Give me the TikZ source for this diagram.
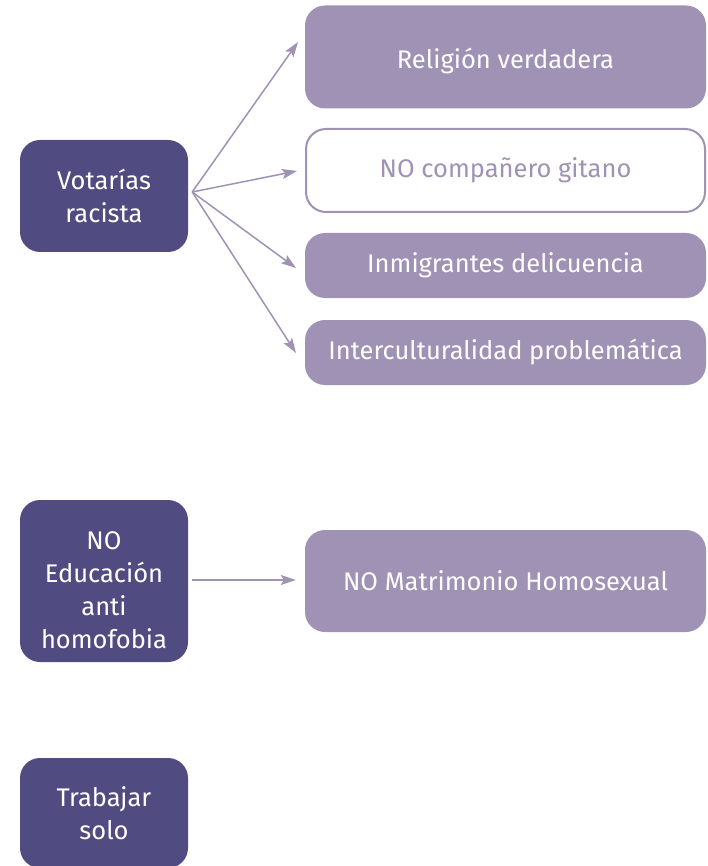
\documentclass[tikz,border=0pt]{standalone}
\usepackage{fontspec}
\setmainfont{Fira Sans}
\usetikzlibrary{arrows.meta,calc}
\definecolor{darkp}{RGB}{80,76,130}
\definecolor{lightp}{RGB}{160,146,180}
\begin{document}
\begin{tikzpicture}[x=1pt,y=-1pt,
  base/.style={rounded corners=20pt,align=center,inner sep=0pt,font=\fontsize{25.5}{33}\selectfont},
  darkbox/.style={base,fill=darkp,text=white,minimum width=168pt},
  lightbox/.style={base,fill=lightp,text=white,minimum width=401pt},
  whitebox/.style={base,draw=lightp,line width=2pt,fill=white,text=lightp,minimum width=399pt},
  arr/.style={draw=lightp,line width=1.5pt,-{Stealth[length=15pt,width=10pt,inset=3pt]}}]
\useasboundingbox (0,0) rectangle (707,866);
\node[darkbox,minimum height=112pt] (v) at (104,196) {Votarías\\racista};
\node[lightbox,minimum height=103pt] (r) at (505.5,57) {\rule{0pt}{28pt}Religión verdadera};
\node[whitebox,minimum height=83pt] (g) at (505.5,170.5) {NO compañero gitano};
\node[lightbox,minimum height=65pt] (i) at (505.5,265.5) {Inmigrantes delicuencia};
\node[lightbox,minimum height=65pt] (c) at (505.5,352.5) {Interculturalidad problemática};
\node[darkbox,minimum height=162pt] (e) at (104,581) {\rule{0pt}{36pt}NO\\Educación\\anti\\homofobia};
\node[lightbox,minimum height=102pt] (m) at (505.5,581) {NO Matrimonio Homosexual};
\node[darkbox,minimum height=110pt] (t) at (104,813) {Trabajar\\solo};
\coordinate (vo) at ($(v.east)+(4,-4)$);
\coordinate (rt) at (298,42);
\coordinate (gt) at (297,171);
\coordinate (it) at (296,268);
\coordinate (ct) at (296,353);
\draw[arr] (vo) -- (rt);
\draw[arr] (vo) -- (gt);
\draw[arr] (vo) -- (it);
\draw[arr] (vo) -- (ct);
\draw[arr] ($(e.east)+(4,-1)$) -- ($(m.west)+(-9,-1)$);
\end{tikzpicture}
\end{document}
